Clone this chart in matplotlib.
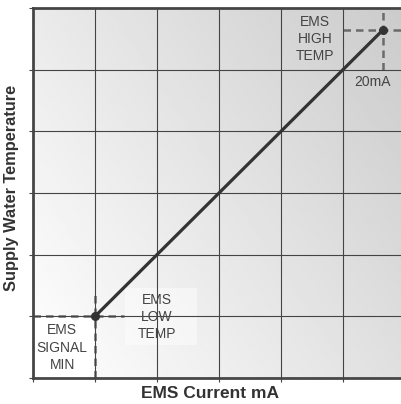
import matplotlib
matplotlib.use("Agg")
import matplotlib.pyplot as plt
import numpy as np
from matplotlib.patches import Rectangle

plt.rcParams['font.family'] = ['Liberation Sans', 'DejaVu Sans']

# Data
line_x = [1.0, 5.65]
line_y = [1.0, 5.65]
grid_ticks = [0, 1, 2, 3, 4, 5, 6]
x_label = "EMS Current mA"
y_label = "Supply Water Temperature"
low_label = "EMS\nLOW\nTEMP"
high_label = "EMS\nHIGH\nTEMP"
min_label = "EMS\nSIGNAL\nMIN"
max_label = "20mA"

W, H = 401, 404
fig = plt.figure(figsize=(W / 100, H / 100), dpi=100)
ax = fig.add_axes([33 / W, (H - 378) / H, (405 - 33) / W, (378 - 8) / H])

# gradient background (light bottom-left to darker top-right)
gx, gy = np.meshgrid(np.linspace(0, 6, 200), np.linspace(0, 6, 200))
g = np.clip(1.0 - 0.0205 * gx - 0.0135 * gy, 0, 1)
ax.imshow(g, extent=[0, 6, 0, 6], origin='lower', cmap='gray', vmin=0, vmax=1,
          interpolation='bilinear', aspect='auto', zorder=0)

ax.set_xlim(0, 6)
ax.set_ylim(0, 6)
ax.set_xticks(grid_ticks)
ax.set_yticks(grid_ticks)
ax.set_xticklabels([])
ax.set_yticklabels([])
ax.tick_params(length=3, width=0.8, color='#444444', direction='out')
ax.grid(True, color='#444444', linewidth=0.8, zorder=1)
ax.set_axisbelow(False)
for s in ax.spines.values():
    s.set_color('#484848')
    s.set_linewidth(2.0)

# white box for signal min
ax.add_patch(Rectangle((0, 0), 1, 1, facecolor='white', edgecolor='none', zorder=0.5))
# semi-white box for low temp
ax.add_patch(Rectangle((1.48, 0.53), 1.17, 0.93, facecolor='white', alpha=0.45,
                       edgecolor='none', zorder=0.6))

dash_kw = dict(color='#6a6a6a', linewidth=1.8, linestyle=(0, (3, 2)), zorder=2)
ax.plot([0, 1.47], [line_y[0], line_y[0]], **dash_kw)
ax.plot([line_x[0], line_x[0]], [0, 1.38], **dash_kw)
ax.plot([5.0, 6], [line_y[1], line_y[1]], **dash_kw)
ax.plot([line_x[1], line_x[1]], [5.0, 6], **dash_kw)

ax.plot(line_x, line_y, color='#333333', linewidth=2.3, solid_capstyle='round', zorder=3)
ax.plot(line_x, line_y, 'o', color='#333333', markersize=5.5, zorder=4)

tkw = dict(ha='center', va='center', fontsize=10, color='#444444', linespacing=1.3, zorder=5)
ax.text(0.47, 0.49, min_label, **tkw)
ax.text(2.0, 0.99, low_label, **tkw)
ax.text(4.55, 5.50, high_label, **tkw)
ax.text(5.48, 4.80, max_label, **tkw)

fig.text(209.5 / W, 1 - 393 / H, x_label, ha='center', va='center', fontsize=12.5,
         fontweight='bold', color='#333333')
fig.text(12 / W, 1 - 188 / H, y_label, ha='center', va='center', rotation=90,
         fontsize=11.8, fontweight='bold', color='#333333')

fig.savefig("out.png", dpi=100)
